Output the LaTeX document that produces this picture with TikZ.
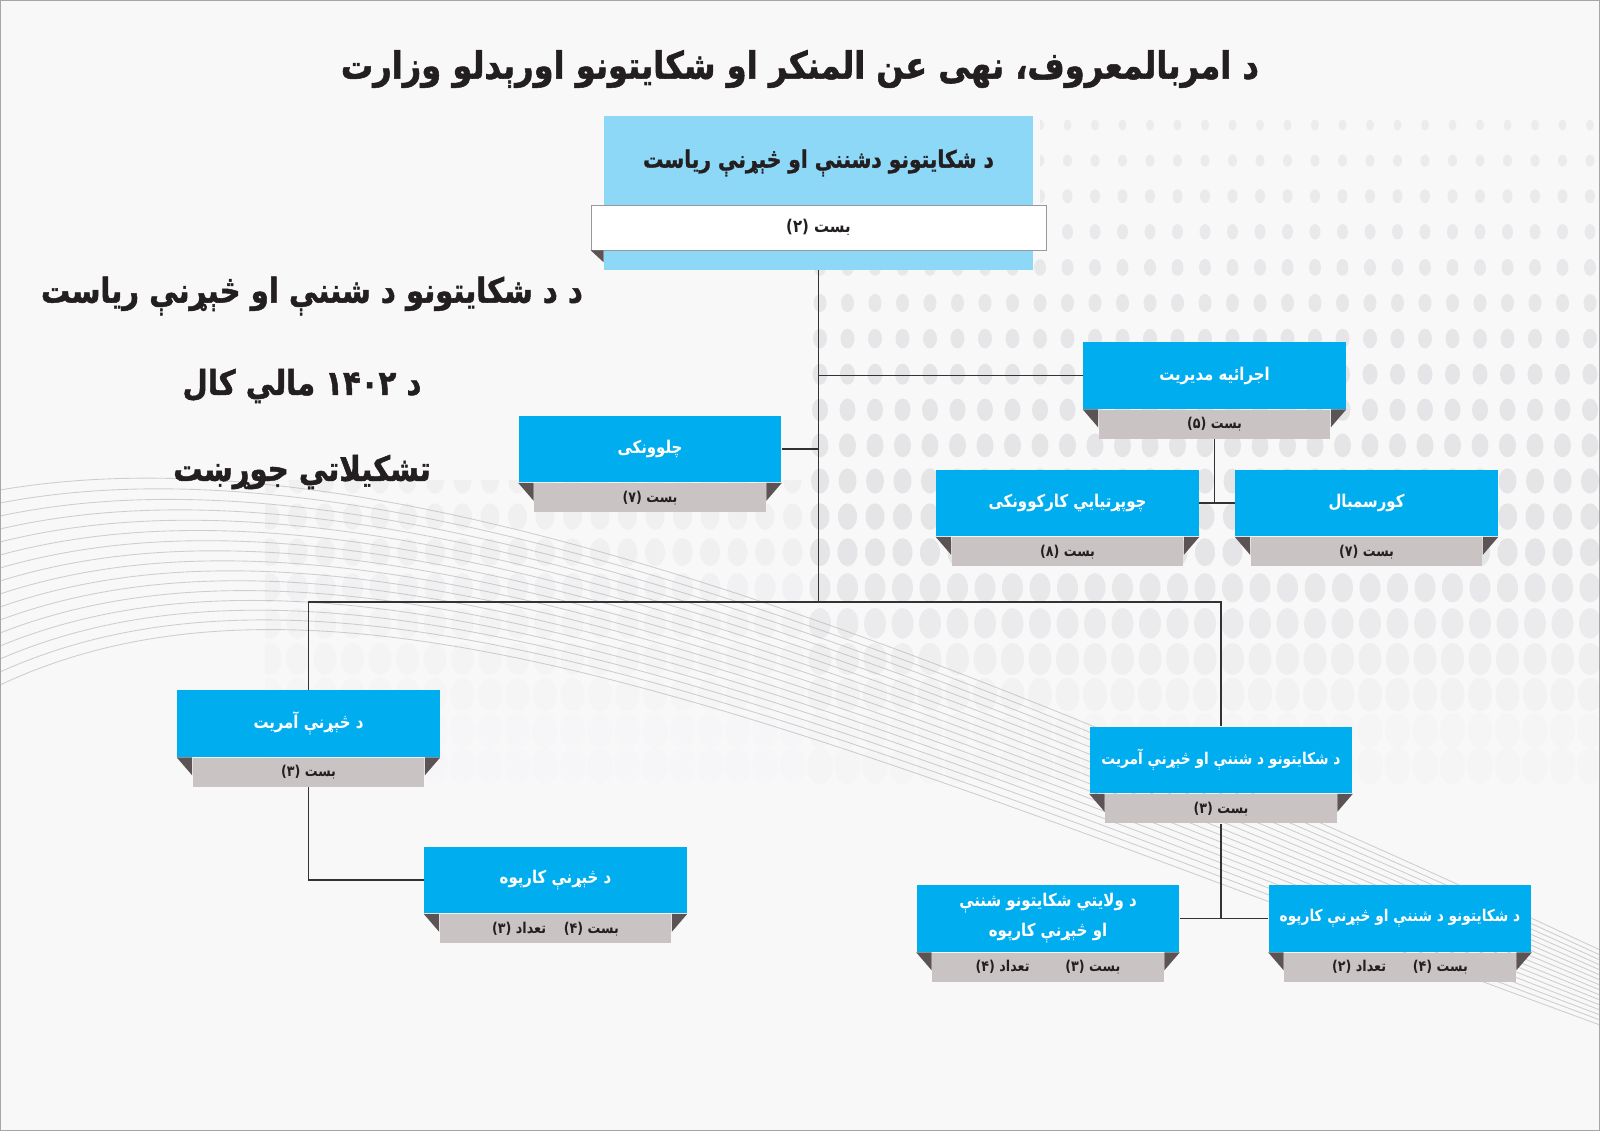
\documentclass[tikz,border=0pt]{standalone}
\usepackage{fontspec}
\usepackage{tikz}
\usetikzlibrary{positioning, calc}
\TeXXeTstate=1
\newfontfamily\arabicfont[Script=Arabic, FakeStretch=0.85]{DejaVu Sans}
\newfontfamily\arabicheavy[Script=Arabic, FakeStretch=0.85, BoldFeatures={FakeBold=1.4}]{DejaVu Sans}
\newcommand{\rtl}[1]{\beginR#1\endR}
\definecolor{unitblue}{RGB}{0,174,239}
\definecolor{headblue}{RGB}{141,215,247}
\definecolor{postgray}{RGB}{201,195,195}
\definecolor{folddark}{RGB}{92,84,84}
\definecolor{textdark}{RGB}{35,31,32}
\definecolor{linedark}{RGB}{51,51,51}
\definecolor{bggray}{RGB}{248,248,249}
\definecolor{dotgray}{RGB}{226,226,228}
\definecolor{wavegray}{RGB}{165,165,165}

\begin{document}
\begin{tikzpicture}[x=0.02cm, y=-0.02cm,
  unit/.style={rectangle, fill=unitblue, minimum width=5.26cm, minimum height=1.34cm,
               inner sep=1pt, align=center, text=white,
               font=\arabicfont\bfseries\fontsize{10}{17}\selectfont},
  long/.style={font=\arabicfont\bfseries\fontsize{9.2}{16}\selectfont},
  post/.style={rectangle, fill=postgray, minimum width=4.64cm, minimum height=0.58cm,
               inner sep=0pt, text=textdark, below=0pt of #1,
               font=\arabicfont\bfseries\fontsize{8.5}{10}\selectfont},
  head/.style={rectangle, fill=headblue, minimum width=8.58cm, minimum height=3.08cm},
  strip/.style={rectangle, fill=white, draw=gray!80, minimum width=9.1cm, minimum height=0.9cm,
                text=textdark, font=\arabicfont\bfseries\fontsize{10}{12}\selectfont},
  ttl/.style={text=textdark, font=\arabicheavy\bfseries\fontsize{21.5}{26}\selectfont},
  sub/.style={text=textdark, font=\arabicheavy\bfseries\fontsize{19.5}{22}\selectfont},
  link/.style={draw=linedark, line width=0.8pt},
  fold/.style={fill=folddark},
  wave/.style={draw=wavegray, line width=0.5pt, opacity=0.5}
]

\useasboundingbox (0,0) rectangle (1600,1131);
\fill[bggray] (0,0) rectangle (1600,1131);

% dotted background
\begin{scope}
  \clip (1040,100) -- (1600,100) -- (1600,800) -- (265,800) -- (265,480)
        -- (805,480) -- (805,250) -- (1040,250) -- cycle;
  \foreach \r in {0,...,18} {
    \pgfmathsetmacro{\rx}{4+0.5*\r}
    \pgfmathsetmacro{\op}{\r<13 ? min(0.85,0.5+0.05*\r) : max(0.12,0.85-0.15*(\r-12))}
    \foreach \c in {-20,...,28} {
      \pgfmathsetmacro{\opx}{\c<0 ? 0.4*\op : \op}
      \fill[dotgray, opacity=\opx] ({820+27.5*\c},{125+35.6*\r})
        ellipse [x radius=\rx, y radius=1.4*\rx];
    }
  }
\end{scope}

% waves
\foreach \i in {0,...,15}
  \draw[wave] (0,{490+13*\i}) .. controls (350,{430+6*\i}) and (850,{600+10*\i}) .. (1600,{950+5*\i});

\draw[gray!70, line width=0.8pt] (0,0) rectangle (1600,1131);

% titles
\node[ttl] (title) at (800,69) {\rtl{د امربالمعروف، نهی عن المنکر او شکایتونو اورېدلو وزارت}};
\node[sub] (sub1) at (312,296) {\rtl{د د شکایتونو د شننې او څېړنې  ریاست}};
\node[sub] (sub2) at (302,386) {\rtl{د ۱۴۰۲ مالي کال}};
\node[sub] (sub3) at (302,472) {\rtl{تشکیلاتي جوړښت}};

% head office
\node[head] (rst) at (818.5,193) {};
\node[ttl, font=\arabicheavy\bfseries\fontsize{13.5}{16}\selectfont] (rst-t) at (818.5,163)
  {\rtl{د شکایتونو دشننې او څېړنې ریاست}};
\node[strip] (rst-p) at (818.5,227.5) {\rtl{بست (۲)}};
\fill[fold] (rst-p.south west) -- ($(rst-p.south west)+(13,0)$) -- ($(rst-p.south west)+(13,12)$) -- cycle;

% units
\node[unit] (chl) at (650,449)    {\rtl{چلوونکی}};
\node[post=chl] (chl-p) {\rtl{بست (۷)}};
\node[unit] (ejr) at (1214.5,375.5) {\rtl{اجرائیه مدیریت}};
\node[post=ejr] (ejr-p) {\rtl{بست (۵)}};
\node[unit] (chp) at (1067.5,503)  {\rtl{چوپړتیایي کارکوونکی}};
\node[post=chp] (chp-p) {\rtl{بست (۸)}};
\node[unit] (kor) at (1366.5,503)  {\rtl{کورسمبال}};
\node[post=kor] (kor-p) {\rtl{بست (۷)}};

\node[unit] (kha) at (308.5,723.5) {\rtl{د څېړنې آمریت}};
\node[post=kha] (kha-p) {\rtl{بست (۳)}};
\node[unit] (kkp) at (555.5,880)   {\rtl{د څېړنې کارپوه}};
\node[post=kkp] (kkp-p) {\rtl{بست (۴)\hspace{1.2em}تعداد (۳)}};

\node[unit, long] (sha) at (1221,760) {\rtl{د شکایتونو د شننې او څېړنې آمریت}};
\node[post=sha] (sha-p) {\rtl{بست (۳)}};
\node[unit] (wil) at (1048,918.5)  {\rtl{د ولایتي شکایتونو شننې}\\\rtl{او څېړنې کارپوه}};
\node[post=wil] (wil-p) {\rtl{بست (۳)\hspace{2.4em}تعداد (۴)}};
\node[unit, long] (shk) at (1400,918.5) {\rtl{د شکایتونو د شننې او څېړنې کارپوه}};
\node[post=shk] (shk-p) {\rtl{بست (۴)\hspace{1.8em}تعداد (۲)}};

\foreach \b in {chl,ejr,chp,kor,kha,kkp,sha,wil,shk} {
  \fill[fold] (\b.south west) -- (\b-p.north west) -- ($(\b-p.north west)+(0,18)$) -- cycle;
  \fill[fold] (\b.south east) -- (\b-p.north east) -- ($(\b-p.north east)+(0,18)$) -- cycle;
}

% connectors
\coordinate (bus) at (818.5,602);
\draw[link] (rst.south) -- (bus);
\draw[link] (ejr.west) -- (ejr.west -| rst.south);
\draw[link] (chl.east) -- (chl.east -| rst.south);
\draw[link] (ejr-p.south) -- (ejr-p.south |- chp.east);
\draw[link] (chp.east) -- (kor.west);
\draw[link] (kha.north) |- (bus) -| (sha.north);
\draw[link] (kha-p.south) |- (kkp.west);
\draw[link] (sha-p.south) -- (sha-p.south |- wil.east);
\draw[link] (wil.east) -- (shk.west);

\end{tikzpicture}
\end{document}
